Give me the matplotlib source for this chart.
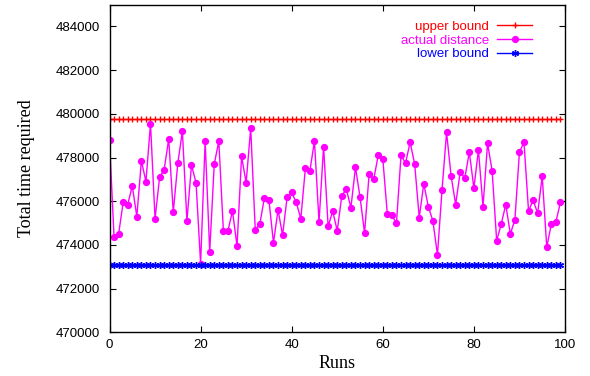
import numpy as np
import matplotlib
matplotlib.use("Agg")
import matplotlib.pyplot as plt

runs = list(range(100))
actual_distance = [
    478800, 474350, 474500, 475950, 475850, 476700, 475300, 477850, 476900, 479550,
    475200, 477100, 477450, 478850, 475500, 477750, 479200, 475100, 477650, 476850,
    473150, 478750, 473700, 477700, 478750, 474650, 474650, 475550, 473950, 478050,
    476850, 479350, 474700, 474950, 476150, 476050, 474100, 475600, 474450, 476200,
    476400, 475950, 475200, 477500, 477400, 478750, 475050, 478500, 474850, 475550,
    474650, 476250, 476550, 475700, 477550, 476200, 474550, 477250, 477000, 478100,
    477950, 475400, 475350, 475000, 478100, 477750, 478700, 477700, 475250, 476800,
    475750, 475100, 473550, 476500, 479150, 477150, 475850, 477350, 477050, 478250,
    476600, 478350, 475750, 478650, 477400, 474200, 474950, 475850, 474500, 475150,
    478250, 478700, 475550, 476050, 475450, 477150, 473900, 474950, 475050, 475950,
]
upper_bound_value = 479750
lower_bound_value = 473100
upper_bound = [upper_bound_value] * len(runs)
lower_bound = [lower_bound_value] * len(runs)

xticks = [0, 20, 40, 60, 80, 100]
yticks = list(range(470000, 484001, 2000))

fig = plt.figure(figsize=(5.9, 3.76), dpi=100)
ax = fig.add_axes([0.1856, 0.116, 0.9576 - 0.1856, 0.988 - 0.116])

ax.plot(runs, upper_bound, color="#ff0000", lw=1.0, marker="+", ms=5, mew=1.0,
        label="upper bound")
ax.plot(runs, actual_distance, color="#ff00ff", lw=1.0, marker="o", ms=4.2,
        label="actual distance")
ax.plot(runs, lower_bound, color="#0000ff", lw=1.0, marker=(6, 2, 0), ms=5, mew=1.0,
        label="lower bound")

ax.set_xlim(0, 100)
ax.set_ylim(470000, 485000)
ax.set_xticks(xticks)
ax.set_yticks(yticks)
ax.set_xticklabels([str(v) for v in xticks], fontfamily="Liberation Sans", fontsize=9.5)
ax.set_yticklabels([str(v) for v in yticks], fontfamily="Liberation Sans", fontsize=9.5)
ax.tick_params(direction="in", top=True, right=True, length=4, width=0.8)
ax.tick_params(axis="y", pad=7)
ax.tick_params(axis="x", pad=5)
for s in ax.spines.values():
    s.set_linewidth(1.0)

ax.set_xlabel("Runs", fontfamily="Liberation Serif", fontsize=13, labelpad=3)
ax.set_ylabel("Total time required", fontfamily="Liberation Serif", fontsize=13, labelpad=15)

leg = ax.legend(loc="upper right", markerfirst=False, frameon=False,
                labelcolor="linecolor", prop={"family": "Liberation Sans", "size": 9.5},
                handlelength=2.7, handletextpad=0.6, labelspacing=0.12,
                borderaxespad=0.0, bbox_to_anchor=(0.94, 0.967))

fig.savefig("out.png", dpi=100)
